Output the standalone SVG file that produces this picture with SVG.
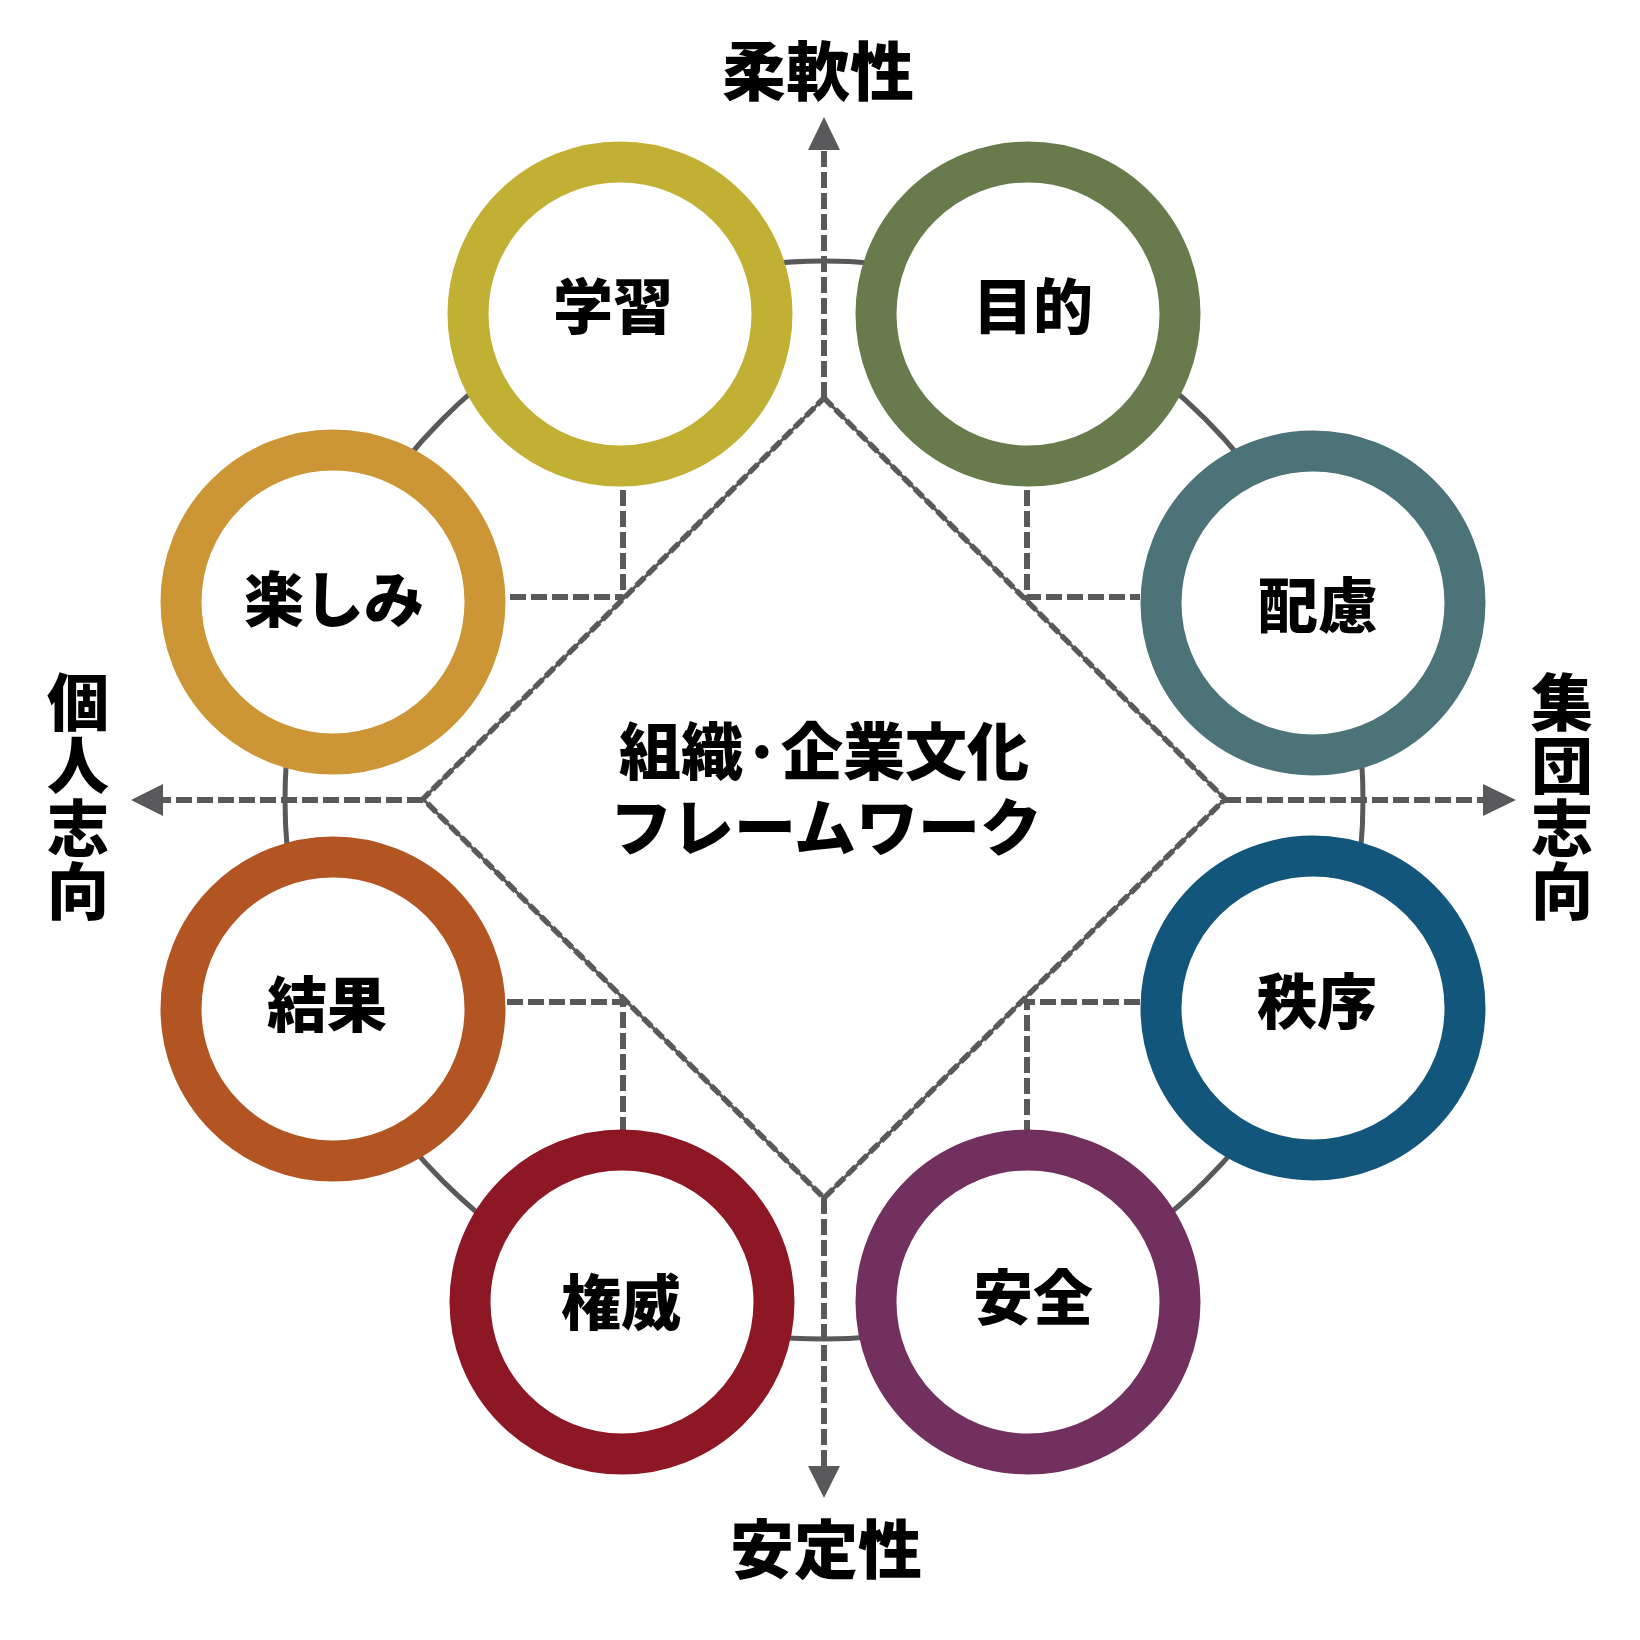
<svg xmlns="http://www.w3.org/2000/svg" width="1640" height="1640" viewBox="0 0 1640 1640">
<style>
  .lbl{font-family:"Noto Sans CJK JP","Noto Sans CJK SC",sans-serif;font-weight:900;fill:#000;text-anchor:middle;dominant-baseline:central}
  .node{font-size:60px}
  .axis{font-size:64px}
  .vert{font-size:62px;writing-mode:vertical-rl;letter-spacing:1px}
  .center{font-size:62px}
  .ring{fill:#fff;stroke-width:41}
  .dash{fill:none;stroke:#59595B;stroke-width:6;stroke-dasharray:16 5}
  .solid{fill:none;stroke:#59595B;stroke-width:5}
  .arrow{fill:#59595B}
</style>
<rect width="1640" height="1640" fill="#fff"/>
<g id="connectors">
  <circle class="solid" cx="824" cy="800" r="539"/>
  <path d="M824,398 L1225,799 L824,1198 L423,799 Z" fill="none" stroke="#59595B" stroke-width="3"/>
  <path d="M824,398 L1225,799 L824,1198 L423,799 Z" fill="none" stroke="#59595B" stroke-width="5.5" stroke-dasharray="12 4"/>
  <path class="dash" d="M423,800 H163"/>
  <polygon class="arrow" points="163,784 163,816 131,800"/>
  <path class="dash" d="M1225,800 H1483"/>
  <polygon class="arrow" points="1483,784 1483,816 1516,800"/>
  <path class="dash" d="M824,398 V150"/>
  <polygon class="arrow" points="808,150 840,150 824,117"/>
  <path class="dash" d="M824,1198 V1466"/>
  <polygon class="arrow" points="808,1466 840,1466 824,1498"/>
  <path class="dash" d="M623,490 V597 M510,597 H623"/>
  <path class="dash" d="M1027,490 V597 H1140"/>
  <path class="dash" d="M507,1002 H623 V1132"/>
  <path class="dash" d="M1140,1002 H1027 V1132"/>
</g>
<g id="node-gakushu"><circle class="ring" cx="620" cy="314" r="152" stroke="#C2B035"/><text class="lbl node" x="613" y="302">学習</text></g>
<g id="node-mokuteki"><circle class="ring" cx="1028" cy="314" r="152" stroke="#687B4C"/><text class="lbl node" x="1033" y="302">目的</text></g>
<g id="node-tanoshimi"><circle class="ring" cx="333" cy="602" r="152" stroke="#CC9637"/><text class="lbl node" x="334" y="595">楽しみ</text></g>
<g id="node-hairyo"><circle class="ring" cx="1313" cy="603" r="152" stroke="#4C7377"/><text class="lbl node" x="1318" y="601">配慮</text></g>
<g id="node-kekka"><circle class="ring" cx="333" cy="1009" r="152" stroke="#B25522"/><text class="lbl node" x="327" y="1000">結果</text></g>
<g id="node-chitsujo"><circle class="ring" cx="1313" cy="1008" r="152" stroke="#12567C"/><text class="lbl node" x="1317" y="997">秩序</text></g>
<g id="node-ken-i"><circle class="ring" cx="622" cy="1302" r="152" stroke="#8E1726"/><text class="lbl node" x="621" y="1298">権威</text></g>
<g id="node-anzen"><circle class="ring" cx="1028" cy="1302" r="152" stroke="#71305E"/><text class="lbl node" x="1033" y="1293">安全</text></g>
<g id="center-label">
  <text class="lbl center"><tspan x="824" y="748">組織·企業文化</tspan><tspan x="826" y="824">フレームワーク</tspan></text>
</g>
<g id="axis-labels">
  <text class="lbl axis" x="818" y="67">柔軟性</text>
  <text class="lbl axis" x="826" y="1545">安定性</text>
  <text class="lbl vert" x="78" y="797">個人志向</text>
  <text class="lbl vert" x="1562" y="797">集団志向</text>
</g>
</svg>
